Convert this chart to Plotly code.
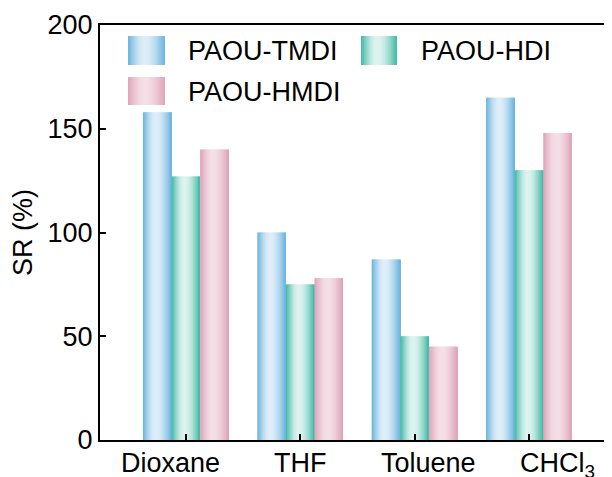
import numpy as np
import plotly.graph_objects as go

categories = ["Dioxane", "THF", "Toluene", "CHCl<sub>3</sub>"]
series_names = ["PAOU-TMDI", "PAOU-HDI", "PAOU-HMDI"]
tmdi = [158, 100, 87, 165]
hdi = [127, 75, 50, 130]
hmdi = [140, 78, 45, 148]
y_ticks = [0, 50, 100, 150, 200]

values = [tmdi, hdi, hmdi]
edge_cols = [(108, 180, 223), (66, 185, 166), (222, 164, 186)]
mid_cols = [(222, 238, 248), (222, 243, 239), (244, 223, 230)]

OFF = 8  # page body margin
W, H = 612 - OFF, 477 - OFF
L, R, T, B = 100 - OFF, 3, 25 - OFF, 37
pw, ph = W - L - R, H - T - B

N = 24
bar_w = 0.25
xs = list(range(len(categories)))


def grad(i, t):
    peak = 0.45
    if t < peak:
        u = t / peak
    else:
        u = (1 - t) / (1 - peak)
    f = np.sin(u * np.pi / 2) ** 1.1
    e, m = edge_cols[i], mid_cols[i]
    c = [int(round(e[k] + (m[k] - e[k]) * f)) for k in range(3)]
    return f"rgb({c[0]},{c[1]},{c[2]})"


fig = go.Figure()
for i, vals in enumerate(values):
    for j in range(N):
        t = (j + 0.5) / N
        w = bar_w / N * (1.8 if j < N - 1 else 1.0)
        fig.add_trace(go.Bar(
            x=xs, y=vals,
            width=w,
            offset=-1.5 * bar_w + i * bar_w + j * bar_w / N,
            marker=dict(color=grad(i, t), line=dict(width=0)),
            showlegend=False, hoverinfo="skip",
        ))

shapes = []
annotations = []


def px2paper(px, py):
    # px, py are window pixel coords
    return (px - OFF - L) / pw, (OFF + H - B - py) / ph


legend_items = [
    (0, 128, 36, 165, 65, 186),
    (1, 361, 36, 397, 65, 419),
    (2, 128, 77, 165, 105, 186),
]
M = 24
for i, x0, y0, x1, y1, tx in legend_items:
    for j in range(M):
        t = (j + 0.5) / M
        a0 = x0 + (x1 - x0) * j / M
        a1 = x0 + (x1 - x0) * (j + 1) / M + (0.8 if j < M - 1 else 0)
        p0x, p0y = px2paper(a0, y1)
        p1x, p1y = px2paper(a1, y0)
        shapes.append(dict(type="rect", xref="paper", yref="paper",
                           x0=p0x, x1=p1x, y0=p0y, y1=p1y,
                           fillcolor=grad(i, t), line=dict(width=0)))
    ax, ay = px2paper(tx, (y0 + y1) / 2 + 1)
    annotations.append(dict(xref="paper", yref="paper", x=ax, y=ay,
                            text=series_names[i], showarrow=False,
                            xanchor="left", yanchor="middle",
                            font=dict(size=27, color="black")))

# category labels: in the reference they sit on a wider spacing than the bars
label_start, label_step = -0.13, 1.127
_, label_y = px2paper(0, 446)
for i, cat in enumerate(categories):
    annotations.append(dict(xref="x", yref="paper",
                            x=label_start + i * label_step, y=label_y,
                            text=cat, showarrow=False,
                            xanchor="center", yanchor="top",
                            font=dict(size=27, color="black")))

fig.update_layout(
    width=W, height=H,
    margin=dict(l=L, r=R, t=T, b=B, pad=0, autoexpand=False),
    paper_bgcolor="white", plot_bgcolor="white",
    barmode="overlay",
    font=dict(family="Liberation Sans, Arial", size=27, color="black"),
    shapes=shapes, annotations=annotations,
    showlegend=False,
    xaxis=dict(
        range=[-0.75, 3.70], tickvals=xs, showticklabels=False,
        showline=True, linecolor="black", linewidth=2, mirror=True,
        ticks="inside", ticklen=6, tickwidth=2, tickcolor="black",
        showgrid=False, zeroline=False, automargin=False,
    ),
    yaxis=dict(
        range=[0, 200], tickvals=y_ticks,
        showline=True, linecolor="black", linewidth=2, mirror=True,
        ticks="inside", ticklen=6, tickwidth=2, tickcolor="black",
        showgrid=False, zeroline=False, automargin=False,
        title=dict(text="SR (%)", font=dict(size=27), standoff=8),
        tickfont=dict(size=27),
    ),
)

fig.write_html("out.html")
